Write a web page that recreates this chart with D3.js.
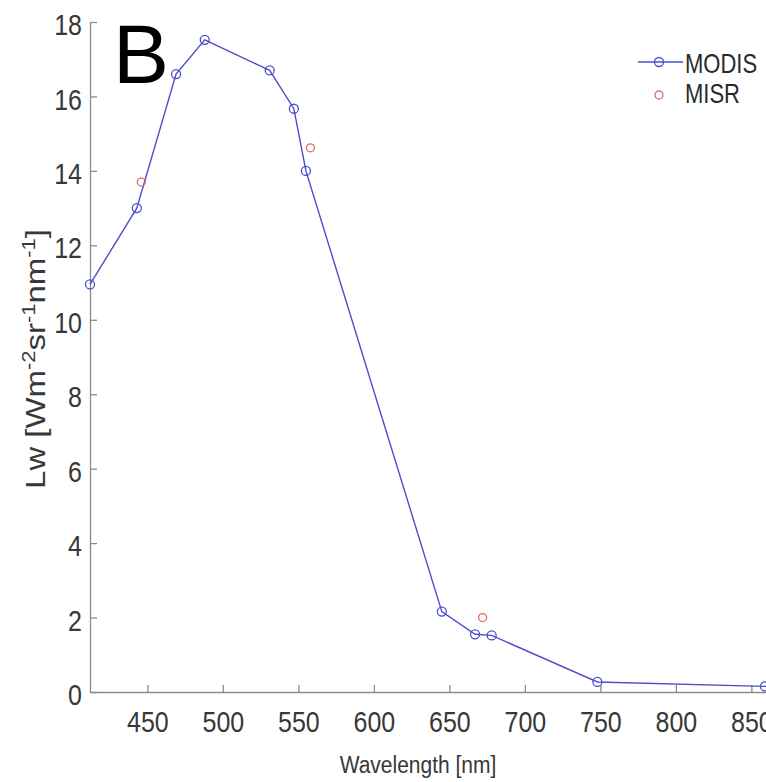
<!DOCTYPE html>
<html>
<head>
<meta charset="utf-8">
<script src="https://cdn.jsdelivr.net/npm/d3@7.9.0/dist/d3.min.js"></script>
<style>
  body { margin: 0; background: #fff; }
  svg { display: block; }
</style>
</head>
<body>
<svg id="chart"></svg>
<script>
// MODIS bands (nm) and water-leaving radiance
const modisWave = [412, 443, 469, 488, 531, 547, 555, 645, 667, 678, 748, 859, 869];
const modisLw = [10.95, 13.0, 16.6, 17.52, 16.7, 15.67, 14.0, 2.16, 1.55, 1.52, 0.27, 0.15, 0.14];

// MISR bands
const misrWave = [446, 558, 672, 867];
const misrLw = [13.7, 14.62, 2.0, 0.2];

const xTicks = [450, 500, 550, 600, 650, 700, 750, 800, 850];
const yTicks = [0, 2, 4, 6, 8, 10, 12, 14, 16, 18];

function drawChart() {
    const svgWidth = 766;
    const svgHeight = 782;
    const margin = { top: 22, left: 90 };
    const plotHeight = 670;

    const svg = d3.select("#chart")
        .attr("width", svgWidth)
        .attr("height", svgHeight);

    const font = "'Liberation Sans', Arial, sans-serif";
    const stretch = 1.2; // text in the original is a bit taller than wide

    const xScale = d3.scaleLinear().domain([412, 869]).range([margin.left, margin.left + 457 * 1.51]);
    const yScale = d3.scaleLinear().domain([0, 18]).range([margin.top + plotHeight, margin.top]);

    const xAxis = d3.axisBottom(xScale).tickValues(xTicks).tickSizeInner(-7).tickSizeOuter(0).tickPadding(19);
    const yAxis = d3.axisLeft(yScale).tickValues(yTicks).tickSizeInner(-7).tickSizeOuter(0).tickPadding(8);

    const gx = svg.append("g")
        .attr("transform", `translate(0, ${yScale(0)})`)
        .call(xAxis);
    const gy = svg.append("g")
        .attr("transform", `translate(${margin.left}, 0)`)
        .call(yAxis);

    [gx, gy].forEach(g => {
        g.select(".domain").attr("stroke", "#8a8a8a").attr("stroke-width", 1.3);
        g.selectAll(".tick line").attr("stroke", "#8a8a8a").attr("stroke-width", 1.3);
        g.selectAll("text")
            .style("font-family", font)
            .style("font-size", "25px")
            .attr("fill", "#383838")
            .attr("transform", `scale(1, ${stretch})`);
    });
    gx.selectAll("text").attr("y", 19 / stretch);
    gy.selectAll("text").attr("dy", "0.42em");

    // axis labels
    svg.append("text")
        .attr("transform", `translate(418, 773) scale(1, 1.13)`)
        .attr("text-anchor", "middle")
        .style("font-family", font)
        .style("font-size", "21px")
        .attr("fill", "#383838")
        .text("Wavelength [nm]");

    const yl = svg.append("text")
        .attr("transform", "translate(45, 359) rotate(-90) scale(1.22, 1)")
        .attr("text-anchor", "middle")
        .style("font-family", font)
        .style("font-size", "27px")
        .attr("fill", "#383838");
    yl.append("tspan").text("Lw [Wm");
    yl.append("tspan").attr("dy", -10).style("font-size", "18px").text("-2");
    yl.append("tspan").attr("dy", 10).text("sr");
    yl.append("tspan").attr("dy", -10).style("font-size", "18px").text("-1");
    yl.append("tspan").attr("dy", 10).text("nm");
    yl.append("tspan").attr("dy", -10).style("font-size", "18px").text("-1");
    yl.append("tspan").attr("dy", 10).text("]");

    const modis = modisWave.map((w, i) => ({ w: w, v: modisLw[i] }));
    const misr = misrWave.map((w, i) => ({ w: w, v: misrLw[i] }));

    const line = d3.line()
        .x(d => xScale(d.w))
        .y(d => yScale(d.v));

    const blue = "#4d4dcc";
    const red = "#e06a6a";

    svg.append("path")
        .datum(modis)
        .attr("d", line)
        .attr("fill", "none")
        .attr("stroke", blue)
        .attr("stroke-width", 1.4);

    svg.selectAll("circle.modis")
        .data(modis)
        .enter()
        .append("circle")
        .attr("class", "modis")
        .attr("cx", d => xScale(d.w))
        .attr("cy", d => yScale(d.v))
        .attr("r", 4.5)
        .attr("fill", "none")
        .attr("stroke", blue)
        .attr("stroke-width", 1.3);

    svg.selectAll("circle.misr")
        .data(misr)
        .enter()
        .append("circle")
        .attr("class", "misr")
        .attr("cx", d => xScale(d.w))
        .attr("cy", d => yScale(d.v))
        .attr("r", 4)
        .attr("fill", "none")
        .attr("stroke", red)
        .attr("stroke-width", 1.3);

    // legend
    const legend = svg.append("g");
    legend.append("line")
        .attr("x1", 638).attr("x2", 683)
        .attr("y1", 62).attr("y2", 62)
        .attr("stroke", blue).attr("stroke-width", 1.4);
    legend.append("circle")
        .attr("cx", 659).attr("cy", 62).attr("r", 4.5)
        .attr("fill", "none").attr("stroke", blue).attr("stroke-width", 1.3);
    legend.append("circle")
        .attr("cx", 659).attr("cy", 95).attr("r", 4)
        .attr("fill", "none").attr("stroke", red).attr("stroke-width", 1.3);
    legend.append("text")
        .attr("transform", "translate(685, 73) scale(1, 1.25)")
        .style("font-family", font).style("font-size", "22px")
        .attr("fill", "#2a2a2a")
        .text("MODIS");
    legend.append("text")
        .attr("transform", "translate(685, 103) scale(1, 1.25)")
        .style("font-family", font).style("font-size", "22px")
        .attr("fill", "#2a2a2a")
        .text("MISR");

    // panel letter
    svg.append("text")
        .attr("x", 113)
        .attr("y", 83)
        .style("font-family", font)
        .style("font-size", "84px")
        .attr("fill", "#000")
        .text("B");
}

drawChart();
</script>
</body>
</html>
